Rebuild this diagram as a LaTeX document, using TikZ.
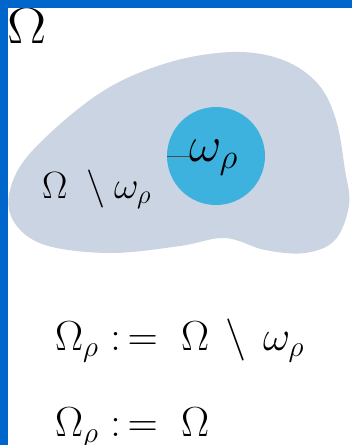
\documentclass[tikz,border=0pt]{standalone}
\usepackage{fix-cm}
\usepackage{amsmath}
\usetikzlibrary{positioning}
\definecolor{frameblue}{RGB}{0,102,204}
\definecolor{domaingray}{RGB}{203,212,226}
\definecolor{holeblue}{RGB}{62,178,222}
\tikzset{
  mathlbl/.style={inner sep=0pt, anchor=base west, font=\fontsize{#1}{#1}\selectfont},
  framebar/.style={fill=frameblue, draw=none}
}
\newcommand{\defeq}{\mathrel{:\,=}\;}

\begin{document}
\begin{tikzpicture}[x=1pt,y=-1pt]
  \clip (0,0) rectangle (352,445);
  \fill[white] (0,0) rectangle (352,445);
  % the domain Omega
  \fill[domaingray] plot[smooth cycle, tension=0.6] coordinates {
    (233,52) (283,60) (318,84) (336,120) (345,170) (349,205) (335,240)
    (305,253) (265,250) (225,238) (180,246) (110,253) (45,245) (14,222)
    (10,190) (33,150) (100,93) (167,63)};
  \node[circle, fill=holeblue, minimum size=98pt, inner sep=0pt] (hole) at (216,156) {};
  \coordinate (radend) at (192,156);
  \draw[black!70, line width=0.4pt] (hole.west) -- (radend);
  \node[mathlbl=50] (holelbl) at (189,161) {$\omega_\rho$};
  \node[mathlbl=38] (rest) at (42,198) {$\Omega \mathbin{\;\setminus} \omega_\rho$};
  \node[mathlbl=51, xscale=1.15] (omega) at (7,43) {$\Omega$};
  % definitions
  \node[mathlbl=42] (defa) at (55,350) {$\Omega_\rho \defeq \Omega \mathbin{\,\setminus\,} \omega_\rho$};
  \node[mathlbl=42] (defb) at (55,436) {$\Omega_\rho \defeq \Omega$};
  % frame
  \fill[framebar] (0,0) rectangle (352,7.5);
  \fill[framebar] (0,0) rectangle (7.5,445);
\end{tikzpicture}
\end{document}
